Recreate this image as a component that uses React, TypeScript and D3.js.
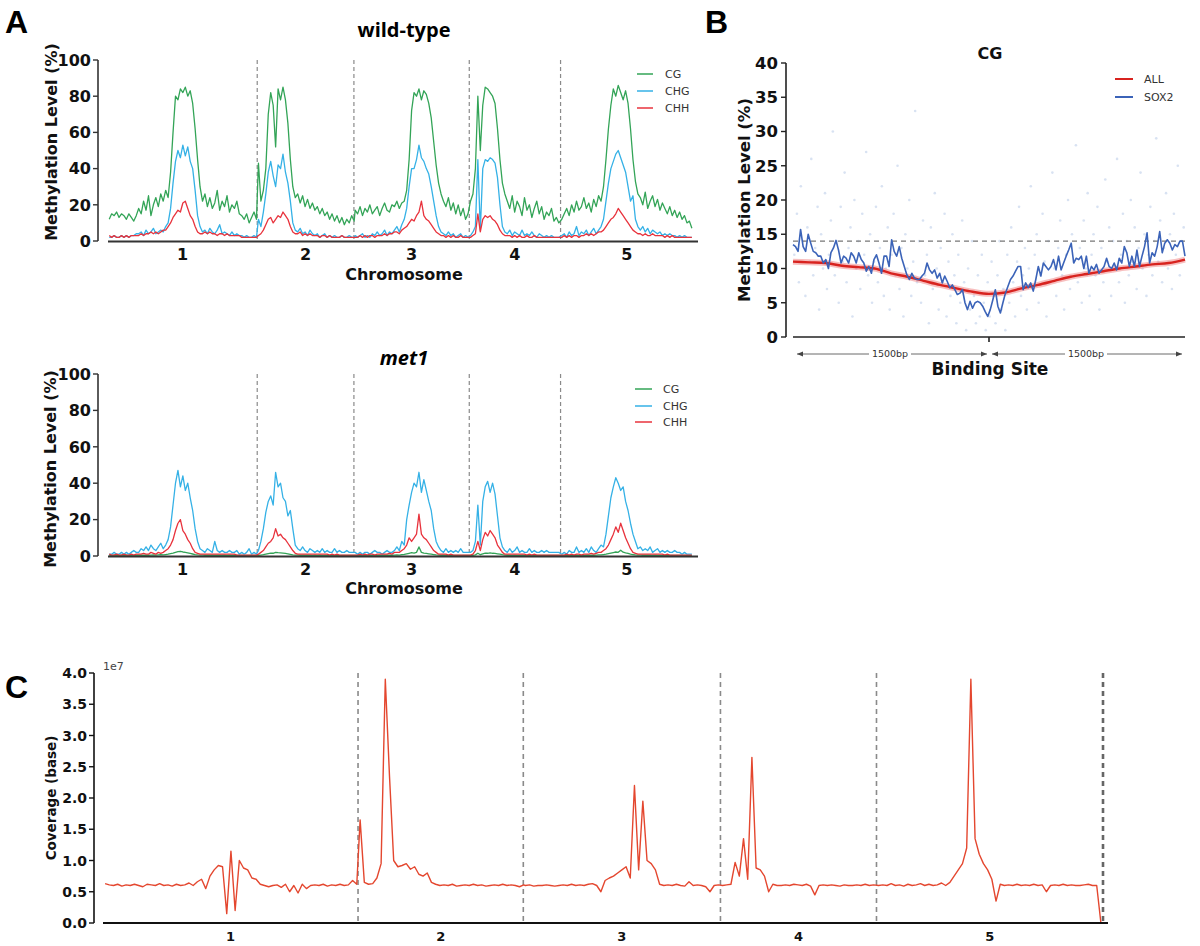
import React from "react";
import * as d3 from "d3";

// ---------------- data ----------------
const CHROM_LEN = [30.4, 19.7, 23.5, 18.6, 27.0]; // Mb
const CHROM_NAMES = ["1", "2", "3", "4", "5"];
const BIN_MB = 0.5;

// wild-type methylation (%), 0.5 Mb bins per chromosome
const wtCG = [
  [12,15,14,16,13,15,14,12,15,13,11,14, 18,15,22,17,25,14,20,24,19,26,22,28,24, 38,60, 80,78,84,82,85,80,83,76, 62,45,30, 22,26,19,24,18,21,28,17,22,19,25,16,20,18,22,15, 14,12,15,10,13,16,12],
  [43,22,28,40,70,82,75,52,84,78, 85,78,65,45,30,24,26,21,25,19, 23,18,21,17,19,15,18,14,16,12, 15,11,14,10,13,9,12,10,14,11],
  [17,15,19,14,18,16,20,15,17,19,14,18,21,17,16,20,19,22,18,21, 22,28,45,72, 82,80,84,78,83,81,76, 68,55,42,32,26,22, 19,24,17,21,15,20,14,18,12,15],
  [22,26,40,80,50,75,85,84,82,80, 76,62,45,32,26,22,18,25,16,22, 19,14,24,17,20,13,18,22,15,19, 12,16,14,18,11,13,10],
  [12,15,18,14,20,16,22,17,19,24,18,21,16,23,19,25,22, 30,45,62,75, 84,80,86,82,78,83,76, 62,45,33,26, 24,20,27,18,22,25,19,23,17,21,18,15,19,14,17,13,16,12,14,10,11,7],
];
const wtCHG = [
  [2,2,3,2,2,3,2,3,2,3,3,4, 4,5,3,6,4,5,7,4,5,6,5,8,10, 18,32, 44,50,46,53,47,52,44,40, 28,14,8, 5,6,4,7,5,4,6,9,4,5,4,3,5,3,4,3, 3,2,3,2,2,3,2],
  [12,8,16,26,38,44,36,30,42,40, 48,38,32,22,10,6,5,7,4,5, 3,6,4,3,4,2,3,4,2,3, 2,3,2,2,3,2,2,3,2,2],
  [3,2,3,4,2,3,2,4,3,5,3,4,6,3,5,4,6,8,5,9, 12,18,30,40, 40,45,53,46,44,40,37, 30,22,14,8,5,4, 3,5,3,4,2,3,4,2,3,2],
  [3,5,8,45,6,40,45,44,46,45, 43,35,20,8,5,4,6,3,5,4, 3,6,3,4,3,5,3,2,4,3, 2,3,2,3,2,2,2],
  [3,4,2,5,3,4,8,3,5,4,6,3,5,7,4,6,8, 12,22,32,40, 44,48,50,46,42,38,30, 22,25,12,8, 6,8,5,7,4,6,5,4,5,3,4,3,4,3,3,2,3,2,3,2,2,2],
];
const wtCHH = [
  [3,2,3,2,2,3,2,3,2,3,3,3, 3,4,3,4,4,5,4,5,4,5,6,6,8, 10,13, 15,17,16,21,22,18,14,12, 8,5,4, 4,5,4,5,4,4,3,4,4,3,4,3,3,3,3,3, 2,2,2,2,2,2,2],
  [3,4,6,9,12,13,10,12,14,13, 16,14,12,8,5,4,4,5,3,4, 3,4,3,3,3,2,3,3,2,3, 2,2,2,2,3,2,2,2,2,2],
  [2,2,3,2,3,2,3,3,2,3,3,3,4,3,4,4,5,5,4,6, 7,8,10,12, 11,14,16,22,14,12,11, 9,7,5,4,3,3, 2,3,2,3,2,2,3,2,2,2],
  [2,3,4,15,5,12,14,13,14,12, 11,9,6,4,3,3,3,2,3,2, 3,2,2,3,2,2,3,2,2,2, 2,2,2,2,2,2,2],
  [2,3,2,3,2,3,3,2,3,3,4,3,4,3,4,5,5, 6,8,10,12, 13,15,18,16,14,12,10, 8,6,5,4, 4,3,4,3,3,4,3,3,3,3,2,3,2,3,2,2,2,2,2,2,2,2],
];

// met1 methylation (%)
const metCG = [
  [0.4,0.3,0.4,0.3,0.3,0.4,0.3,0.4,0.3,0.4,0.3,0.4, 0.4,0.5,0.4,0.5,0.4,0.5,0.6,0.5,0.6,0.7,0.6,0.8,1.0, 1.3,1.6, 2.0,2.4,2.6,2.2,2.0,1.7,1.4,1.1, 0.8,0.6,0.5, 0.5,0.4,0.5,0.4,0.5,0.4,0.4,0.5,0.4,0.4,0.3,0.4,0.3,0.4,0.3,0.3, 0.3,0.3,0.3,0.3,0.3,0.3,0.3],
  [0.4,0.5,0.7,1.0,1.3,1.6,1.5,2.0,1.8,1.7, 1.6,1.4,1.2,0.9,0.6,0.5,0.5,0.4,0.4,0.5, 0.4,0.4,0.3,0.4,0.3,0.4,0.3,0.3,0.4,0.3, 0.3,0.3,0.4,0.3,0.3,0.3,0.3,0.3,0.3,0.3],
  [0.3,0.3,0.4,0.3,0.3,0.4,0.3,0.3,0.4,0.3,0.4,0.3,0.4,0.4,0.5,0.4,0.5,0.6,0.5,0.7, 0.9,1.2,1.5,1.8, 1.6,2.0,5.0,2.0,1.6,1.4,1.2, 1.0,0.8,0.6,0.5,0.4,0.4, 0.4,0.3,0.4,0.3,0.3,0.3,0.3,0.3,0.3,0.3],
  [0.3,0.4,0.6,1.5,0.7,1.2,1.6,1.5,1.7,1.5, 1.4,1.2,1.0,0.7,0.5,0.4,0.4,0.3,0.4,0.3, 0.3,0.4,0.3,0.3,0.3,0.3,0.3,0.3,0.3,0.3, 0.3,0.3,0.3,0.3,0.3,0.3,0.3],
  [0.3,0.3,0.3,0.4,0.3,0.3,0.4,0.3,0.4,0.3,0.4,0.4,0.5,0.4,0.5,0.6,0.6, 0.8,1.0,1.3,1.6, 1.9,2.2,2.0,3.2,2.1,1.7,1.4, 1.0,0.8,0.6,0.5, 0.5,0.4,0.4,0.4,0.4,0.3,0.4,0.3,0.3,0.3,0.3,0.3,0.3,0.3,0.3,0.3,0.3,0.3,0.3,0.3,0.3,0.3],
];
const metCHG = [
  [1,1,2,1,1,2,1,2,1,2,3,2, 2,4,3,5,3,6,4,3,5,7,4,6,9, 16,28, 40,47,38,44,36,40,32,25, 15,8,4, 3,2,4,3,2,8,3,2,3,2,2,3,2,2,3,1, 2,1,2,4,1,2,1],
  [3,8,15,24,30,33,28,46,38,40, 32,30,22,25,15,6,4,3,5,3, 2,4,3,2,3,2,4,2,3,2, 2,4,2,3,2,2,3,2,2,2],
  [2,1,2,1,2,2,1,2,3,2,2,1,2,3,2,2,3,5,3,8, 6,20,28,35, 40,38,46,35,42,36,30, 25,15,8,5,3,2, 4,2,3,2,3,2,4,2,2,2],
  [2,3,8,28,6,30,38,41,35,40, 34,22,10,5,3,2,4,2,3,5, 2,3,2,2,4,2,3,2,2,3, 2,3,2,2,2,2,2],
  [1,2,1,3,2,2,5,2,3,2,4,2,5,3,2,4,6, 5,12,22,32, 38,43,40,36,38,30,25, 18,12,8,4, 5,3,4,3,5,2,3,4,2,3,2,3,2,2,3,2,2,1,2,1,1,1],
];
const metCHH = [
  [1,0.5,0.5,1,0.5,0.5,1,0.5,0.5,1,0.5,1, 1,1,1.5,1,1,2,1.5,1,2,1.5,2,3,4, 6,9, 14,18,20,14,12,9,7,4, 2,1.5,1, 1,1,1,1,1,1,1,1,1,1,1,1,1,1,0.5,0.5, 0.5,0.5,0.5,0.5,0.5,0.5,0.5],
  [1,2,3,5,7,8,10,15,11,12, 10,9,7,5,3,1.5,1,1,1,1, 1,1,1,1,1,1,1,1,1,0.5, 1,0.5,1,0.5,0.5,0.5,0.5,0.5,0.5,0.5],
  [0.5,0.5,1,0.5,1,0.5,1,1,0.5,1,1,1,1,1,1.5,1,2,2,2,3, 4,6,10,8, 10,12,23,12,10,9,7, 5,3,2,1,1,1, 1,0.5,1,0.5,0.5,0.5,0.5,0.5,0.5,0.5],
  [0.5,1,3,8,3,9,13,11,14,12, 10,6,4,2,1,1,1,1,1,1, 1,1,1,0.5,1,0.5,1,0.5,0.5,0.5, 0.5,0.5,0.5,0.5,0.5,0.5,0.5],
  [0.5,0.5,1,0.5,1,0.5,1,1,0.5,1,1,1,1.5,1,1.5,2,2, 3,4,6,9, 12,16,13,18,14,10,7, 4,2,1.5,1, 1,1,1,1,1,1,1,1,1,1,0.5,1,0.5,0.5,0.5,0.5,0.5,0.5,0.5,0.5,0.5,0.5],
];

// coverage (x 1e7 bases), 0.5 Mb bins
const coverage = [
  [0.63,0.61,0.6,0.62,0.59,0.61,0.6,0.62,0.6,0.58,0.62,0.61,0.6,0.63,0.6,0.61,0.59,0.62,0.6,0.61,0.64,0.6, 0.66,0.7,0.55,0.75, 0.85,0.92,0.9, 0.15,1.15,0.2, 1.0,0.88,0.85,0.72,0.7, 0.62,0.6,0.58,0.6,0.61,0.57,0.62,0.5,0.6,0.48,0.62,0.55,0.6,0.61,0.6,0.62,0.59,0.61,0.6,0.62,0.6,0.61,0.68,0.62],
  [1.65,0.65,0.62,0.63,0.72,0.95,3.9,2.35,1.0,0.9, 0.92,0.95,0.86,0.9,0.78,0.75,0.8,0.65, 0.62,0.6,0.61,0.6,0.62,0.59,0.6,0.61,0.6,0.62,0.6,0.61,0.59,0.6,0.61,0.6,0.62,0.6,0.61,0.6,0.58,0.61],
  [0.6,0.61,0.59,0.6,0.6,0.61,0.6,0.59,0.6,0.61,0.6,0.62,0.6,0.61,0.6,0.62,0.63,0.6, 0.5,0.68,0.72,0.75, 0.8,0.85,0.9,0.72, 2.2,0.85,1.95,1.0, 0.95,0.85,0.62, 0.6,0.61,0.6,0.62,0.6,0.59,0.66,0.6,0.61,0.6,0.58,0.5,0.6,0.61],
  [0.6,0.61,0.62,0.97,0.75,1.35,0.7,2.65,0.88,0.85,0.75,0.5, 0.62,0.6,0.6,0.61,0.6,0.62,0.61,0.6,0.62,0.59,0.45,0.6,0.61,0.6,0.61,0.6,0.59,0.61,0.6,0.6,0.61,0.6,0.62,0.6,0.61],
  [0.6,0.61,0.6,0.63,0.6,0.61,0.59,0.62,0.6,0.61,0.63,0.6,0.62,0.6,0.61,0.64,0.6,0.65, 0.75,0.85,0.95, 1.2,3.9,1.35,1.1,0.95,0.85,0.7,0.35, 0.62,0.6,0.61,0.6,0.62,0.6,0.61,0.6,0.62,0.6,0.61,0.5,0.6,0.61,0.6,0.62,0.6,0.61,0.6,0.6,0.61,0.62,0.6,0.6, 0.0],
];

// Panel B: CG methylation around binding sites (-1500..1500 bp)
const allCG = [11.0,10.9,10.8,10.4,10.2,10.0,9.3,8.8,8.2,7.6,7.1,6.6,6.3,6.5,7.1,7.6,8.2,8.8,9.2,9.6,10.0,10.3,10.6,10.8,11.3];
const sox2CG = [
  13.5,13.2,12.5,15.7,13.2,12.5,15.0,13.7,12.5,12.3,11.8,11.8,10.8,11.3,10.0,12.3,13.0,14.1,12.7,10.8,
  11.8,11.5,10.8,12.3,11.8,10.8,12.3,11.3,10.8,9.6,10.3,9.3,11.3,12.0,10.8,9.3,11.8,11.8,10.3,14.2,
  12.5,11.8,13.2,11.5,10.3,9.1,8.4,9.3,8.6,8.4,8.4,8.9,9.3,10.8,9.8,9.3,9.8,8.6,9.3,7.9,
  8.9,8.1,7.2,7.6,6.9,6.2,6.4,6.9,5.0,4.0,5.2,4.2,5.0,5.2,5.0,4.5,3.7,3.0,4.0,5.4,
  6.9,4.5,3.5,5.0,6.4,7.4,8.4,8.9,9.6,10.3,10.3,6.9,7.9,7.2,7.9,6.7,8.4,10.3,8.9,10.8,
  10.3,9.8,10.3,11.3,9.8,11.8,9.8,10.8,11.8,12.7,13.7,10.8,11.5,11.3,11.8,10.0,11.8,9.3,10.3,9.8,
  10.6,9.3,9.8,10.3,11.5,10.3,10.0,10.8,9.8,11.5,10.8,13.2,12.3,10.3,11.8,10.3,12.7,10.3,11.8,13.2,
  15.2,10.8,12.3,11.8,13.2,15.4,12.3,13.7,14.2,13.7,12.7,13.5,13.2,14.0,14.0,11.8,
];
const refLevel = 14;
const siteScatter: [number, number][] = [
  [-1490,12],[-1470,18],[-1455,8],[-1440,22],[-1420,14],[-1405,6],[-1390,16],[-1372,11],[-1360,26],[-1345,9],
  [-1330,13],[-1312,19],[-1300,4],[-1285,15],[-1270,10],[-1255,21],[-1240,7],[-1225,12],[-1210,17],[-1195,30],
  [-1180,9],[-1165,14],[-1150,5],[-1135,19],[-1120,11],[-1105,24],[-1090,8],[-1075,13],[-1060,16],[-1045,3],
  [-1030,20],[-1015,10],[-1000,14],[-985,7],[-970,18],[-955,12],[-940,27],[-925,9],[-910,15],[-895,5],
  [-880,11],[-865,19],[-850,8],[-835,13],[-820,22],[-805,6],[-790,10],[-775,16],[-760,4],[-745,12],
  [-730,18],[-715,9],[-700,25],[-685,7],[-670,13],[-655,3],[-640,15],[-625,10],[-610,20],[-595,6],
  [-580,11],[-565,33],[-550,8],[-535,14],[-520,5],[-505,17],[-490,9],[-475,12],[-460,2],[-445,16],
  [-430,7],[-415,21],[-400,10],[-385,4],[-370,13],[-355,8],[-340,18],[-325,3],[-310,11],[-295,6],
  [-280,15],[-265,9],[-250,2],[-235,12],[-220,5],[-205,17],[-190,8],[-175,1],[-160,10],[-145,4],
  [-130,14],[-115,6],[-100,2],[-85,9],[-70,3],[-55,12],[-40,5],[-25,1],[-10,8],[5,3],
  [20,11],[35,6],[50,2],[65,9],[80,14],[95,4],[110,7],[125,1],[140,12],[155,5],
  [170,16],[185,8],[200,3],[215,11],[230,19],[245,6],[260,9],[275,13],[290,4],[305,10],
  [320,22],[335,7],[350,12],[365,15],[380,5],[395,9],[410,18],[425,11],[440,3],[455,14],
  [470,8],[485,24],[500,10],[515,6],[530,13],[545,17],[560,9],[575,4],[590,12],[605,20],
  [620,7],[635,15],[650,11],[665,28],[680,8],[695,13],[710,5],[725,17],[740,10],[755,21],
  [770,6],[785,12],[800,15],[815,9],[830,19],[845,4],[860,13],[875,8],[890,23],[905,11],
  [920,16],[935,6],[950,14],[965,10],[980,26],[995,8],[1010,12],[1025,18],[1040,5],[1055,14],
  [1070,9],[1085,20],[1100,11],[1115,16],[1130,7],[1145,13],[1160,24],[1175,10],[1190,15],[1205,6],
  [1220,12],[1235,19],[1250,9],[1265,14],[1280,29],[1295,11],[1310,17],[1325,8],[1340,13],[1355,21],
  [1370,10],[1385,15],[1400,7],[1415,18],[1430,12],[1445,25],[1460,9],[1475,14],[1490,16],
];

const C_CG = "#33a457";
const C_CHG = "#35b1e6";
const C_CHH = "#e8333d";
const C_ALL = "#d8231f";
const C_SOX = "#3b63b8";
const C_COV = "#e4472f";

const FONT = "'DejaVu Sans', Verdana, sans-serif";
const HEAD = "'Open Sans', 'Liberation Sans', sans-serif";
const LETTER = "'Liberation Sans', Arial, sans-serif";

const STARTS: number[] = CHROM_LEN.reduce((acc: number[], l) => { acc.push(acc[acc.length - 1] + l); return acc; }, [0]);

function toPoints(series: number[][]): [number, number][] {
  const pts: [number, number][] = [];
  series.forEach((arr, c) => arr.forEach((v, i) => pts.push([STARTS[c] + (i + 0.5) * BIN_MB, v])));
  return pts;
}

function MethPanel(props: {
  top: number; bottom: number; title: string; italic: boolean; titleY: number; tickY: number; xLabelY: number;
  yLabelX: number; yLabelY: number; legendY: number[]; legendX: number[];
  cg: number[][]; chg: number[][]; chh: number[][];
}) {
  const { top, bottom } = props;
  const x = d3.scaleLinear().domain([0, 120.2]).range([108, 698]);
  const y = d3.scaleLinear().domain([0, 100]).range([bottom, top]);
  const line = d3.line<[number, number]>().x(d => x(d[0])).y(d => y(d[1]));
  const series = [
    { name: "CG", color: C_CG, vals: props.cg },
    { name: "CHG", color: C_CHG, vals: props.chg },
    { name: "CHH", color: C_CHH, vals: props.chh },
  ];
  return (
    <g>
      <text x={404} y={props.titleY} textAnchor="middle" fontFamily={HEAD} fontWeight={700} fontSize={20}
        fontStyle={props.italic ? "italic" : "normal"}>{props.title}</text>
      {STARTS.slice(1, 5).map((b, i) => (
        <line key={i} x1={x(b)} x2={x(b)} y1={top} y2={bottom} stroke="#8a8a8a" strokeWidth={1.2} strokeDasharray="4,3" />
      ))}
      {series.map(s => (
        <path key={s.name} d={line(toPoints(s.vals)) || ""} fill="none" stroke={s.color} strokeWidth={1.3} strokeLinejoin="round" />
      ))}
      <line x1={98} x2={98} y1={top} y2={bottom} stroke="#333" strokeWidth={1.6} />
      <line x1={108} x2={698} y1={bottom + 0.5} y2={bottom + 0.5} stroke="#333" strokeWidth={2} />
      {y.ticks(5).map(t => (
        <g key={t}>
          <line x1={93} x2={98} y1={y(t)} y2={y(t)} stroke="#333" strokeWidth={1.4} />
          <text x={91} y={y(t)} dy="0.36em" textAnchor="end" fontFamily={FONT} fontWeight={700} fontSize={16} fill="#111">{t}</text>
        </g>
      ))}
      {CHROM_NAMES.map((n, i) => (
        <text key={n} x={x((STARTS[i] + STARTS[i + 1]) / 2)} y={props.tickY} textAnchor="middle" fontFamily={FONT}
          fontWeight={700} fontSize={16} fill="#111">{n}</text>
      ))}
      <text x={404} y={props.xLabelY} textAnchor="middle" fontFamily={FONT} fontWeight={700} fontSize={16} fill="#111">Chromosome</text>
      <text transform={`translate(${props.yLabelX},${props.yLabelY}) rotate(-90)`} textAnchor="middle" fontFamily={FONT}
        fontWeight={700} fontSize={16} fill="#111">Methylation Level (%)</text>
      {series.map((s, i) => (
        <g key={s.name}>
          <line x1={props.legendX[0]} x2={props.legendX[1]} y1={props.legendY[i]} y2={props.legendY[i]} stroke={s.color} strokeWidth={1.5} />
          <text x={props.legendX[2]} y={props.legendY[i]} dy="0.36em" fontFamily={FONT} fontSize={11} fill="#333">{s.name}</text>
        </g>
      ))}
    </g>
  );
}

function PanelB() {
  const x = d3.scaleLinear().domain([-1500, 1500]).range([793, 1185]);
  const y = d3.scaleLinear().domain([0, 40]).range([337, 63]);
  const allX = d3.scaleLinear().domain([0, allCG.length - 1]).range([-1500, 1500]);
  const soxX = d3.scaleLinear().domain([0, sox2CG.length - 1]).range([-1500, 1500]);
  const allLine = d3.line<number>().x((_, i) => x(allX(i))).y(d => y(d)).curve(d3.curveMonotoneX);
  const soxLine = d3.line<number>().x((_, i) => x(soxX(i))).y(d => y(d));
  const arrowY = 354;
  const arrow = (x1: number, x2: number, label: string, cx: number) => (
    <g>
      <line x1={x1} x2={x2} y1={arrowY} y2={arrowY} stroke="#444" strokeWidth={0.8} />
      <path d={`M${x1},${arrowY} l6,-2.5 l0,5 z`} fill="#444" />
      <path d={`M${x2},${arrowY} l-6,-2.5 l0,5 z`} fill="#444" />
      <rect x={cx - 21} y={arrowY - 6} width={42} height={12} fill="#fff" />
      <text x={cx} y={arrowY} dy="0.36em" textAnchor="middle" fontFamily={FONT} fontSize={9.5} fill="#333">{label}</text>
    </g>
  );
  return (
    <g>
      <text x={990} y={59} textAnchor="middle" fontFamily={FONT} fontWeight={700} fontSize={16} fill="#111">CG</text>
      {siteScatter.map((p, i) => (
        <circle key={i} cx={x(p[0])} cy={y(p[1])} r={1.3} fill="#a9bfe3" opacity={0.45} />
      ))}
      <line x1={793} x2={1185} y1={y(refLevel)} y2={y(refLevel)} stroke="#777" strokeWidth={1.2} strokeDasharray="5,4" />
      <path d={allLine(allCG) || ""} fill="none" stroke="#f08a8a" strokeOpacity={0.55} strokeWidth={6} />
      <path d={allLine(allCG) || ""} fill="none" stroke={C_ALL} strokeWidth={2.4} />
      <path d={soxLine(sox2CG) || ""} fill="none" stroke={C_SOX} strokeWidth={1.6} strokeLinejoin="round" />
      <line x1={786} x2={786} y1={63} y2={337} stroke="#222" strokeWidth={1.6} />
      <line x1={793} x2={1185} y1={337} y2={337} stroke="#222" strokeWidth={1.6} />
      <line x1={x(0)} x2={x(0)} y1={337} y2={342} stroke="#222" strokeWidth={1.6} />
      {y.ticks(8).map(t => (
        <g key={t}>
          <line x1={781} x2={786} y1={y(t)} y2={y(t)} stroke="#222" strokeWidth={1.4} />
          <text x={778} y={y(t)} dy="0.36em" textAnchor="end" fontFamily={FONT} fontWeight={700} fontSize={16.5} fill="#111">{t}</text>
        </g>
      ))}
      {arrow(797, 987, "1500bp", 890)}
      {arrow(992, 1182, "1500bp", 1086)}
      <text x={990} y={375} textAnchor="middle" fontFamily={FONT} fontWeight={700} fontSize={17} fill="#111">Binding Site</text>
      <text transform="translate(750,200) rotate(-90)" textAnchor="middle" fontFamily={FONT} fontWeight={700} fontSize={16.5} fill="#111">Methylation Level (%)</text>
      <line x1={1115} x2={1133} y1={79} y2={79} stroke={C_ALL} strokeWidth={2} />
      <text x={1144} y={79} dy="0.36em" fontFamily={FONT} fontSize={11} fill="#333">ALL</text>
      <line x1={1115} x2={1133} y1={97} y2={97} stroke={C_SOX} strokeWidth={2} />
      <text x={1144} y={97} dy="0.36em" fontFamily={FONT} fontSize={11} fill="#333">SOX2</text>
    </g>
  );
}

function PanelC() {
  const x = d3.scaleLinear().domain([0, STARTS[5]]).range([103, 1103]);
  const y = d3.scaleLinear().domain([0, 4]).range([923, 673]);
  const line = d3.line<[number, number]>().x(d => x(d[0])).y(d => y(d[1]));
  const fmt = d3.format(".1f");
  return (
    <g>
      {STARTS.slice(1).map((b, i) => (
        <line key={i} x1={x(b)} x2={x(b)} y1={673} y2={923} stroke={i === 4 ? "#666" : "#8a8a8a"}
          strokeWidth={i === 4 ? 2.6 : 1.6} strokeDasharray="5,4" />
      ))}
      <path d={line(toPoints(coverage)) || ""} fill="none" stroke={C_COV} strokeWidth={1.4} strokeLinejoin="round" />
      <line x1={94} x2={94} y1={673} y2={923} stroke="#111" strokeWidth={1.6} />
      <line x1={103} x2={1108} y1={923} y2={923} stroke="#111" strokeWidth={1.8} />
      {y.ticks(8).map(t => (
        <g key={t}>
          <line x1={89} x2={94} y1={y(t)} y2={y(t)} stroke="#111" strokeWidth={1.4} />
          <text x={87} y={y(t)} dy="0.36em" textAnchor="end" fontFamily={FONT} fontWeight={700} fontSize={14} fill="#111">{fmt(t)}</text>
        </g>
      ))}
      <text x={103} y={670} fontFamily={FONT} fontSize={11} fill="#444">1e7</text>
      {CHROM_NAMES.map((n, i) => (
        <text key={n} x={x((STARTS[i] + STARTS[i + 1]) / 2)} y={941} textAnchor="middle" fontFamily={FONT}
          fontWeight={700} fontSize={13} fill="#111">{n}</text>
      ))}
      <text transform="translate(56,798) rotate(-90)" textAnchor="middle" fontFamily={FONT} fontWeight={700} fontSize={13.5} fill="#111">Coverage (base)</text>
    </g>
  );
}

export default function App() {
  return (
    <svg width={1200} height={946} viewBox="0 0 1200 946"
      style={{ position: "absolute", left: 0, top: 0, display: "block", background: "#fff" }}>
      <rect x={0} y={0} width={1200} height={946} fill="#fff" />
      <text x={5} y={33} fontFamily={LETTER} fontWeight={700} fontSize={32} fill="#000">A</text>
      <text x={705} y={33} fontFamily={LETTER} fontWeight={700} fontSize={32} fill="#000">B</text>
      <text x={5} y={698} fontFamily={LETTER} fontWeight={700} fontSize={32} fill="#000">C</text>
      <MethPanel top={60} bottom={241} title="wild-type" italic={false} titleY={37} tickY={260} xLabelY={280}
        yLabelX={57} yLabelY={142} legendY={[74, 91, 108]} legendX={[637, 653, 665]}
        cg={wtCG} chg={wtCHG} chh={wtCHH} />
      <MethPanel top={374} bottom={556} title="met1" italic={true} titleY={365} tickY={575} xLabelY={594}
        yLabelX={56} yLabelY={469} legendY={[389, 406, 422]} legendX={[635, 652, 663]}
        cg={metCG} chg={metCHG} chh={metCHH} />
      <PanelB />
      <PanelC />
    </svg>
  );
}
